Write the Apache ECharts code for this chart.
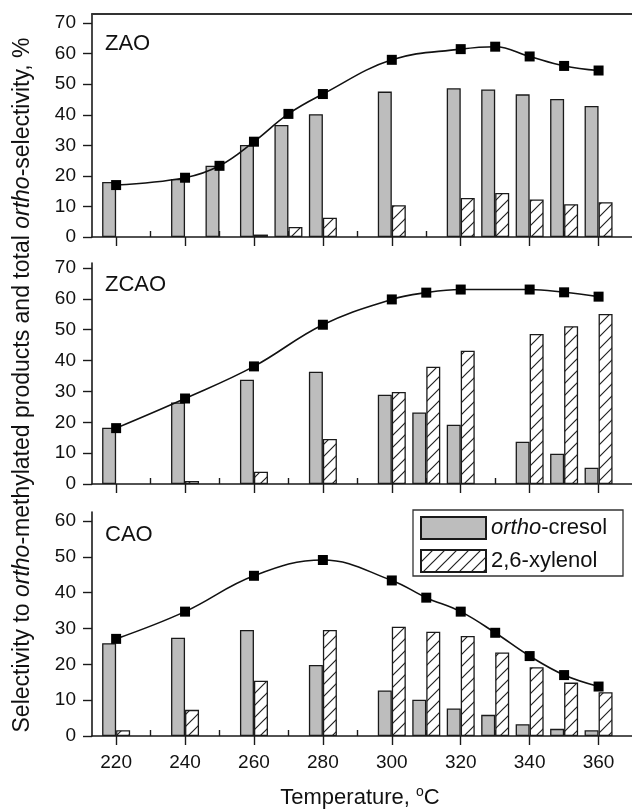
<!DOCTYPE html>
<html>
<head>
<meta charset="utf-8">
<script src="https://cdn.jsdelivr.net/npm/echarts@6/dist/echarts.min.js"></script>
<style>
  html, body { margin: 0; background: #fff; }
  #chart { width: 632px; height: 810px; }
</style>
</head>
<body>
<div id="chart"></div>
<script>
// --- data (°C, %) ---
const zaoTemps    = [220, 240, 250, 260, 270, 280, 300, 320, 330, 340, 350, 360]
const zaoCresol   = [18, 19, 23.3, 30.1, 36.7, 40.2, 47.6, 48.7, 48.3, 46.7, 45.2, 42.9]
const zaoXylenol  = [null, null, null, 0.8, 3.3, 6.3, 10.4, 12.8, 14.4, 12.3, 10.7, 11.4]
const zaoTotal    = [17, 19.4, 23.3, 31.2, 40.3, 46.8, 58, 61.5, 62.3, 59.1, 56, 54.5]

const zcaoTemps   = [220, 240, 260, 280, 300, 310, 320, 340, 350, 360]
const zcaoCresol  = [18.2, 26.4, 33.8, 36.4, 28.9, 23.2, 19.2, 13.7, 9.8, 5.3]
const zcaoXylenol = [null, 1, 4, 14.6, 29.8, 38, 43.2, 48.6, 51.1, 55.1]
const zcaoTotal   = [18.1, 27.7, 38.1, 51.6, 59.8, 62, 63, 63, 62.1, 60.7]

const caoTemps    = [220, 240, 260, 280, 300, 310, 320, 330, 340, 350, 360]
const caoCresol   = [25.9, 27.4, 29.6, 19.8, 12.7, 10.1, 7.7, 5.9, 3.3, 2, 1.6]
const caoXylenol  = [1.6, 7.3, 15.4, 29.6, 30.5, 29.1, 27.9, 23.3, 19.2, 14.9, 12.2]
const caoTotal    = [27.1, 34.7, 44.7, 49.1, 43.4, 38.6, 34.7, 28.8, 22.3, 17, 13.8]

const seriesNames = ['ortho-cresol', '2,6-xylenol']
const xMajor = [220, 240, 260, 280, 300, 320, 340, 360]
const xMinor = [230, 250, 270, 290, 310, 330, 350]
const yMajor70 = [0, 10, 20, 30, 40, 50, 60, 70]
const yMinor70 = [5, 15, 25, 35, 45, 55, 65]
const yMajor60 = [0, 10, 20, 30, 40, 50, 60]
const yMinor60 = [5, 15, 25, 35, 45, 55]

const FONT = '"Liberation Sans", Arial, sans-serif'
const INK = '#1a1a1a'

const panels = [
  { name: 'ZAO',  temps: zaoTemps,  cresol: zaoCresol,  xylenol: zaoXylenol,  total: zaoTotal,
    top: 14,  height: 223, max: 73,   major: yMajor70, minor: yMinor70, labelY: 44 },
  { name: 'ZCAO', temps: zcaoTemps, cresol: zcaoCresol, xylenol: zcaoXylenol, total: zcaoTotal,
    top: 263, height: 221, max: 71.6, major: yMajor70, minor: yMinor70, labelY: 285 },
  { name: 'CAO',  temps: caoTemps,  cresol: caoCresol,  xylenol: caoXylenol,  total: caoTotal,
    top: 512, height: 224, max: 62.5, major: yMajor60, minor: yMinor60, labelY: 535 },
]

function hatchPattern() {
  const s = 12
  const c = document.createElement('canvas')
  c.width = s; c.height = s
  const g = c.getContext('2d')
  g.fillStyle = '#fff'
  g.fillRect(0, 0, s, s)
  g.strokeStyle = '#222'
  g.lineWidth = 1.2
  g.beginPath()
  g.moveTo(0, s); g.lineTo(s, 0)
  g.moveTo(-2, 2); g.lineTo(2, -2)
  g.moveTo(s - 2, s + 2); g.lineTo(s + 2, s - 2)
  g.stroke()
  return c
}
const hatch = { image: hatchPattern(), repeat: 'repeat' }

function pairs(temps, vals) {
  return temps.map((t, i) => [t, vals[i]]).filter(p => p[1] != null)
}

const grid = [], xAxis = [], yAxis = [], series = [], graphic = []

panels.forEach((p, i) => {
  grid.push({ left: 92, right: 0, top: p.top, height: p.height })

  xAxis[i] = {
    type: 'value', gridIndex: i, min: 213, max: 369.7,
    axisLine: { lineStyle: { color: INK, width: 1.6 } },
    axisTick: { inside: false, length: 9, customValues: xMajor, lineStyle: { color: INK, width: 1.4 } },
    axisLabel: { show: i === 2, customValues: xMajor, fontSize: 19, margin: 17, color: '#111', fontFamily: FONT },
    splitLine: { show: false },
  }
  xAxis[3 + i] = {
    type: 'value', gridIndex: i, min: 213, max: 369.7,
    axisLine: { show: false },
    axisTick: { inside: false, length: 6, customValues: xMinor, lineStyle: { color: INK, width: 1.4 } },
    axisLabel: { show: false },
    splitLine: { show: false },
  }
  yAxis[i] = {
    type: 'value', gridIndex: i, min: 0, max: p.max,
    axisLine: { show: true, lineStyle: { color: INK, width: 1.6 } },
    axisTick: { show: true, inside: false, length: 9, customValues: p.major, lineStyle: { color: INK, width: 1.4 } },
    axisLabel: { customValues: p.major, fontSize: 19, margin: 16, color: '#111', fontFamily: FONT },
    splitLine: { show: false },
  }
  yAxis[3 + i] = {
    type: 'value', gridIndex: i, min: 0, max: p.max,
    axisLine: { show: false },
    axisTick: { show: true, inside: false, length: 5, customValues: p.minor, lineStyle: { color: INK, width: 1.4 } },
    axisLabel: { show: false },
    splitLine: { show: false },
  }

  series.push({
    name: seriesNames[0], type: 'bar', xAxisIndex: i, yAxisIndex: i,
    barWidth: 14, barGap: '0%',
    itemStyle: { color: '#bdbdbd', borderColor: INK, borderWidth: 1.3 },
    data: pairs(p.temps, p.cresol),
  })
  series.push({
    name: seriesNames[1], type: 'bar', xAxisIndex: i, yAxisIndex: i,
    barWidth: 14, barGap: '0%',
    itemStyle: { color: hatch, borderColor: INK, borderWidth: 1.3 },
    data: pairs(p.temps, p.xylenol),
  })
  series.push({
    name: 'total ' + p.name, type: 'line', xAxisIndex: i, yAxisIndex: i,
    smooth: 0.4, z: 5,
    symbol: 'rect', symbolSize: 10,
    lineStyle: { color: '#111', width: 1.6 },
    itemStyle: { color: '#000' },
    data: pairs(p.temps, p.total),
  })

  graphic.push({
    type: 'text', left: 105, top: p.labelY - 11,
    style: { text: p.name, fontSize: 22, fontFamily: FONT, fill: '#111' },
  })
})

// frame line on top of the first panel
xAxis.push({
  type: 'value', gridIndex: 0, position: 'top', min: 213, max: 369.7,
  axisLine: { lineStyle: { color: '#333', width: 2 } },
  axisTick: { show: false }, axisLabel: { show: false }, splitLine: { show: false },
})

graphic.push({
  type: 'text', x: 23, y: 385, rotation: Math.PI / 2,
  style: {
    text: '{n|Selectivity to }{i|ortho}{n|-methylated products and total }{i|ortho}{n|-selectivity, %}',
    align: 'center', verticalAlign: 'middle', fill: '#111',
    rich: {
      n: { fontSize: 23, fontFamily: FONT, fill: '#111' },
      i: { fontSize: 23, fontFamily: FONT, fontStyle: 'italic', fill: '#111' },
    },
  },
})
graphic.push({
  type: 'text', x: 360, y: 798,
  style: {
    text: '{n|Temperature, }{s|o}{n|C}',
    align: 'center', verticalAlign: 'middle', fill: '#111',
    rich: {
      n: { fontSize: 22, fontFamily: FONT, fill: '#111', lineHeight: 26 },
      s: { fontSize: 14, fontFamily: FONT, fill: '#111', verticalAlign: 'top', lineHeight: 26 },
    },
  },
})
// legend frame
graphic.push({
  type: 'rect', z: 0,
  shape: { x: 413, y: 510, width: 210, height: 66 },
  style: { fill: '#fff', stroke: '#333', lineWidth: 1.3 },
})

const chart = echarts.init(document.getElementById('chart'), null, { renderer: 'canvas' })
chart.setOption({
  animation: false,
  backgroundColor: '#fff',
  grid, xAxis, yAxis, series, graphic,
  legend: {
    data: seriesNames,
    orient: 'vertical', left: 420, top: 516,
    padding: 0, itemGap: 9, itemWidth: 65, itemHeight: 22,
    icon: 'rect',
    formatter: name => name === 'ortho-cresol' ? '{i|ortho}-cresol' : name,
    textStyle: {
      fontSize: 22, fontFamily: FONT, color: '#111',
      rich: { i: { fontSize: 22, fontFamily: FONT, fontStyle: 'italic', color: '#111' } },
    },
  },
})
</script>
</body>
</html>
